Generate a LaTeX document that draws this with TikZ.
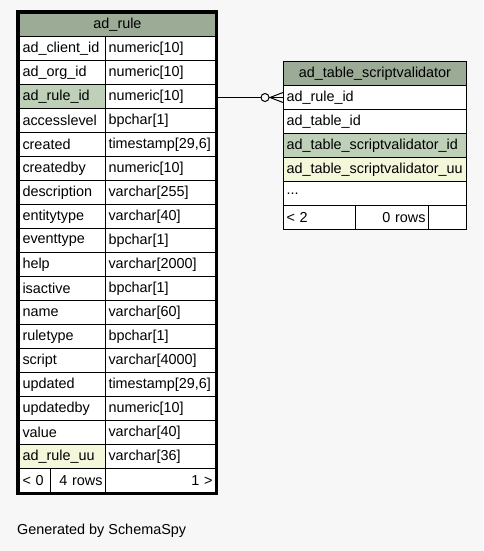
\documentclass[tikz,border=0pt]{standalone}
\usepackage{fontspec}
\setmainfont{Liberation Sans}
\definecolor{bgc}{HTML}{F7F7F7}
\definecolor{hdrc}{HTML}{9BAB96}
\definecolor{pkc}{HTML}{BED1B8}
\definecolor{uuc}{HTML}{F4F7DA}
\newcommand\tsz{timestamp[29,6]}
\begin{document}
\begin{tikzpicture}[x=1pt,y=-1pt,
  cell/.style={draw=black, line width=1pt, fill=white, inner xsep=3pt, inner ysep=0pt,
    anchor=north west, minimum height=24pt, align=left,
    font=\fontsize{14.4}{16}\selectfont},
  hdr/.style={cell, fill=hdrc, align=center},
  pk/.style={cell, fill=pkc},
  uu/.style={cell, fill=uuc},
  rgt/.style={cell, align=right},
  rel/.style={draw=black, line width=1pt},
  frame/.style={draw=black, line width=3pt}]
\useasboundingbox[fill=bgc] (0,0) rectangle (483,551);
% ---------- ad_rule ----------
\node[hdr, text width=190pt, minimum height=23pt] (r0) at (19,13) {ad\_rule};
\foreach \i/\n/\t/\s in {
  0/ad\_client\_id/numeric[10]/cell,
  1/ad\_org\_id/numeric[10]/cell,
  2/ad\_rule\_id/numeric[10]/pk,
  3/accesslevel/bpchar[1]/cell,
  4/created/\tsz/cell,
  5/createdby/numeric[10]/cell,
  6/description/varchar[255]/cell,
  7/entitytype/varchar[40]/cell,
  8/eventtype/bpchar[1]/cell,
  9/help/varchar[2000]/cell,
  10/isactive/bpchar[1]/cell,
  11/name/varchar[60]/cell,
  12/ruletype/bpchar[1]/cell,
  13/script/varchar[4000]/cell,
  14/updated/\tsz/cell,
  15/updatedby/numeric[10]/cell,
  16/value/varchar[40]/cell,
  17/ad\_rule\_uu/varchar[36]/uu}{
  \node[\s, text width=80pt] (rn\i) at (19,36+24*\i) {\n};
  \node[cell, text width=104pt] (rt\i) at (105,36+24*\i) {\t};
}
\node[cell, text width=25pt] (rf1) at (19,468) {< 0};
\node[rgt, text width=49pt] (rf2) at (50,468) {4 rows};
\node[rgt, text width=104pt] (rf3) at (105,468) {1 >};
\draw[frame] (17.5,11.5) rectangle (216.5,493.5);
% ---------- ad_table_scriptvalidator ----------
\node[hdr, text width=177pt] (s0) at (283,61) {ad\_table\_scriptvalidator};
\node[cell, text width=177pt] (s1) at (283,85) {ad\_rule\_id};
\node[cell, text width=177pt] (s2) at (283,109) {ad\_table\_id};
\node[pk, text width=177pt] (s3) at (283,133) {ad\_table\_scriptvalidator\_id};
\node[uu, text width=177pt] (s4) at (283,157) {ad\_table\_scriptvalidator\_uu};
\node[cell, text width=177pt] (s5) at (283,181) {...};
\node[cell, text width=66pt] (sf1) at (283,205) {< 2};
\node[rgt, text width=67pt] (sf2) at (355,205) {0 rows};
\node[cell, text width=32pt] (sf3) at (428,205) {};
% ---------- relationship ----------
\coordinate (cf) at (s1.west);
\coordinate (cs) at (s1.west -| rt2.east);
\draw[rel] (cs) -- (cf);
\draw[rel] ([xshift=-13pt]cf) -- ([yshift=5pt]cf);
\draw[rel] ([xshift=-13pt]cf) -- ([yshift=-5pt]cf);
\draw[rel, fill=bgc] ([xshift=-18pt]cf) circle (4pt);
% ---------- caption ----------
\node[anchor=base west, inner sep=0pt, font=\fontsize{14.4}{16}\selectfont] (cap) at (17,534) {Generated by SchemaSpy};
\end{tikzpicture}
\end{document}
